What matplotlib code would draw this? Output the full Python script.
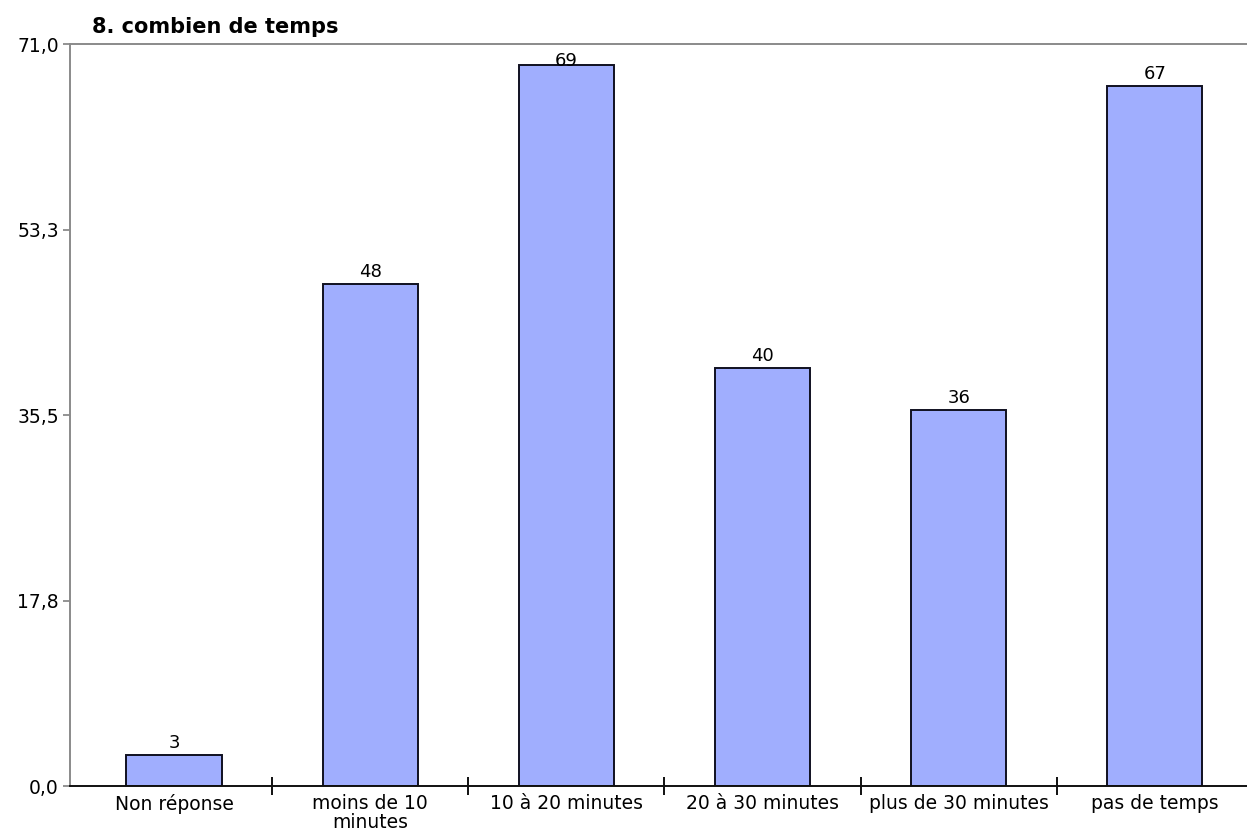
import matplotlib
matplotlib.use("Agg")
import matplotlib.pyplot as plt
from matplotlib.ticker import FixedLocator

# réponses à la question 8
categories = ["Non réponse", "moins de 10\nminutes", "10 à 20 minutes",
              "20 à 30 minutes", "plus de 30 minutes", "pas de temps"]
counts = [3, 48, 69, 40, 36, 67]
y_ticks = [0.0, 17.75, 35.5, 53.25, 71.0]
y_tick_labels = ["0,0", "17,8", "35,5", "53,3", "71,0"]

plt.rcParams['font.family'] = ['DejaVu Sans']

W, H = 1247, 838
fig = plt.figure(figsize=(W / 100, H / 100), dpi=100)
ax = fig.add_axes([70 / W, (H - 786) / H, (W - 70) / W, (786 - 44) / H])

x = list(range(len(categories)))
ax.bar(x, counts, width=0.485, color="#a0aefe", edgecolor="#101020", linewidth=1.4, zorder=2)

for xi, v in zip(x, counts):
    ax.text(xi, min(v + 0.3, 68.5), str(v), ha="center", va="bottom", fontsize=13, zorder=3)

ax.set_xlim(-0.53, 5.47)
ax.set_ylim(0, 71)

ax.set_xticks(x)
ax.set_xticklabels(categories, fontsize=13.5, linespacing=1.0)
ax.tick_params(axis="x", which="major", length=0, pad=6)
ax.xaxis.set_minor_locator(FixedLocator([i + 0.5 for i in range(len(categories) - 1)]))
ax.tick_params(axis="x", which="minor", direction="inout", length=13, width=1.4, color="#101010")

ax.set_yticks(y_ticks)
ax.set_yticklabels(y_tick_labels, fontsize=13.5)
ax.tick_params(axis="y", direction="out", length=5, width=1.2, color="#808080", pad=3)

ax.spines["right"].set_visible(False)
ax.spines["top"].set_color("#8a8a8a")
ax.spines["top"].set_linewidth(1.4)
ax.spines["left"].set_color("#8a8a8a")
ax.spines["left"].set_linewidth(1.4)
ax.spines["bottom"].set_color("#101010")
ax.spines["bottom"].set_linewidth(1.4)

fig.text(92 / W, 1 - 27 / H, "8. combien de temps", fontsize=15, fontweight="bold",
         ha="left", va="center")

fig.savefig("out.png", dpi=100)
